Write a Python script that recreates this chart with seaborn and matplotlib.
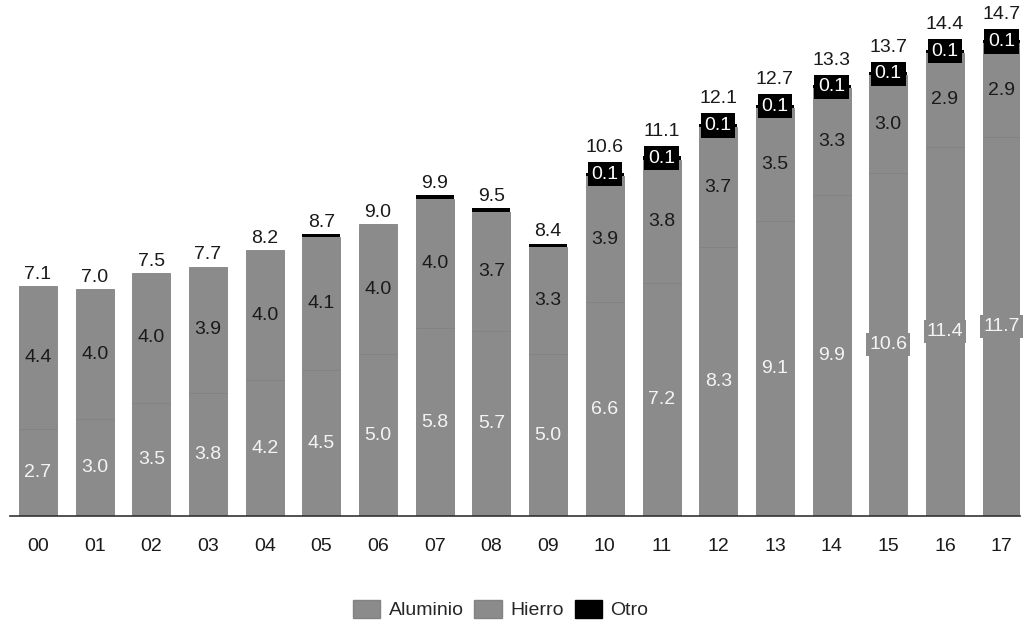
import matplotlib
matplotlib.use("Agg")
import matplotlib.pyplot as plt
import seaborn as sns
import numpy as np
import pandas as pd
from matplotlib.patches import Patch

years = ["00", "01", "02", "03", "04", "05", "06", "07", "08", "09",
         "10", "11", "12", "13", "14", "15", "16", "17"]
aluminio = [2.7, 3.0, 3.5, 3.8, 4.2, 4.5, 5.0, 5.8, 5.7, 5.0,
            6.6, 7.2, 8.3, 9.1, 9.9, 10.6, 11.4, 11.7]
hierro = [4.4, 4.0, 4.0, 3.9, 4.0, 4.1, 4.0, 4.0, 3.7, 3.3,
          3.9, 3.8, 3.7, 3.5, 3.3, 3.0, 2.9, 2.9]
otro = [0.0, 0.0, 0.0, 0.0, 0.0, 0.1, 0.0, 0.1, 0.1, 0.1,
        0.1, 0.1, 0.1, 0.1, 0.1, 0.1, 0.1, 0.1]
otro_labeled = [False] * 10 + [True] * 8

sns.set_theme(style="white")
plt.rcParams["font.family"] = ["Liberation Sans", "DejaVu Sans"]

df = pd.DataFrame({"year": years, "Aluminio": aluminio, "Hierro": hierro, "Otro": otro})
df["base_h"] = df["Aluminio"]
df["base_o"] = df["Aluminio"] + df["Hierro"]
df["total"] = (df["Aluminio"] + df["Hierro"] + df["Otro"]).round(1)

GRAY = "#8b8b8b"
EDGE = "#828282"
DARK = "#1a1a1a"

fig = plt.figure(figsize=(10.28, 6.28), dpi=100)
ax = fig.add_axes([0.0094, 0.1783, 0.9826, 0.8217])

sns.barplot(data=df, x="year", y="Aluminio", color=GRAY, saturation=1,
            width=0.67, edgecolor=EDGE, linewidth=0.6, ax=ax)
sns.barplot(data=df, x="year", y="Hierro", color=GRAY, saturation=1,
            width=0.67, edgecolor=EDGE, linewidth=0.6, bottom=df["base_h"], ax=ax)
sns.barplot(data=df, x="year", y="Otro", color="black", saturation=1,
            width=0.67, linewidth=0, bottom=df["base_o"], ax=ax)

FS = 14
alu_bars, hie_bars, otr_bars = ax.containers[0], ax.containers[1], ax.containers[2]

for i, rect in enumerate(alu_bars):
    xc = rect.get_x() + rect.get_width() / 2
    ax.text(xc, aluminio[i] / 2, f"{aluminio[i]:.1f}", ha="center", va="center",
            color="#f4f4f4", fontsize=FS,
            bbox=dict(boxstyle="square,pad=0.15", fc=GRAY, ec="none"))

for i, rect in enumerate(hie_bars):
    xc = rect.get_x() + rect.get_width() / 2
    ax.text(xc, aluminio[i] + hierro[i] / 2, f"{hierro[i]:.1f}", ha="center", va="center",
            color=DARK, fontsize=FS)

for i, rect in enumerate(otr_bars):
    xc = rect.get_x() + rect.get_width() / 2
    top = df["total"][i]
    if otro_labeled[i]:
        ax.text(xc, df["base_o"][i] + otro[i] / 2, f"{otro[i]:.1f}", ha="center", va="center",
                color="white", fontsize=FS,
                bbox=dict(boxstyle="square,pad=0.19", fc="black", ec="none"))
        off = 12
    else:
        off = 2.5
    ax.annotate(f"{top:.1f}", (xc, top), xytext=(0, off), textcoords="offset points",
                ha="center", va="bottom", color=DARK, fontsize=FS)

ax.set_xlim(-0.5, 17.32)
ax.set_ylim(0, 15.93)
ax.set_xlabel("")
ax.set_ylabel("")
ax.set_yticks([])
ax.tick_params(axis="x", length=0, pad=16, labelsize=FS, colors=DARK)
for side in ["top", "right", "left"]:
    ax.spines[side].set_visible(False)
ax.spines["bottom"].set_color("#333333")
ax.spines["bottom"].set_linewidth(1.2)

handles = [Patch(facecolor=GRAY, edgecolor=EDGE, label="Aluminio"),
           Patch(facecolor=GRAY, edgecolor=EDGE, label="Hierro"),
           Patch(facecolor="black", edgecolor="black", label="Otro")]
fig.legend(handles=handles, loc="center", bbox_to_anchor=(0.487, 0.029), ncol=3,
           frameon=False, fontsize=FS, handlelength=1.4, handleheight=1.0,
           handletextpad=0.45, columnspacing=0.55, borderpad=0)

fig.savefig("out.png", dpi=100)
